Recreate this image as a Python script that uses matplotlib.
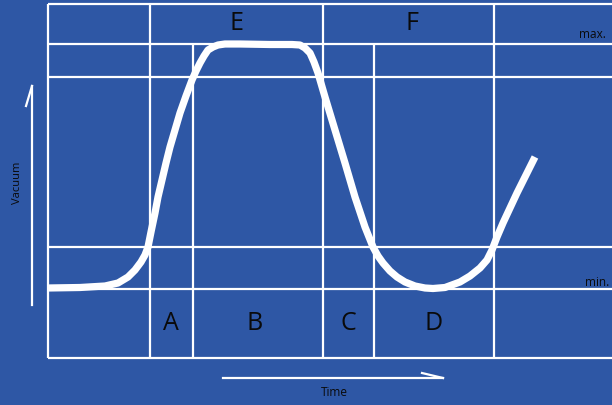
import numpy as np
import matplotlib.pyplot as plt

plt.rcParams['font.family'] = ['Open Sans', 'DejaVu Sans']

bg = '#2E57A5'

# curve (x = time, y = vacuum, screen units, y down)
curve_x = [48, 80, 105, 118, 128, 135, 141, 145, 148, 151, 155, 158, 162, 166,
           170, 175, 180, 186, 192, 196, 200, 204, 208, 213, 218, 225, 240, 270,
           292, 300, 305, 310, 314, 318, 325, 335, 345, 355, 365, 373, 378, 383,
           390, 397, 405, 415, 425, 433, 445, 460, 470, 480, 487, 492, 497, 503,
           510, 517, 522, 527, 531, 535]
curve_y = [288, 287.5, 286, 283, 277, 270, 262, 255, 247, 232, 213, 197, 180, 163,
           147, 130, 113, 96, 80, 71, 63, 56, 50, 47, 45, 44, 44, 44.5,
           44.5, 45, 48, 53, 62, 73, 97, 130, 163, 197, 227, 247, 256, 263,
           271, 277, 282, 286, 288, 288.5, 287.5, 282, 276, 268, 260, 250, 237, 223,
           208, 193, 183, 173, 165, 157]

# grid: horizontal lines (y, x start), vertical lines (x, y start)
h_lines = [(4, 48), (44, 48), (77, 48), (247, 48), (289, 48), (358, 48)]
v_lines = [(48, 4), (150, 4), (193, 44), (323, 4), (374, 44), (494, 4)]
box_bottom = 358
box_right = 612

phase_labels = ['A', 'B', 'C', 'D', 'E', 'F']
phase_x = [171, 255, 348, 434, 236, 412]
phase_y = [323, 323, 323, 323, 23, 23]

fig = plt.figure(figsize=(6.12, 4.05), dpi=100)
fig.patch.set_facecolor(bg)
ax = fig.add_axes([0, 0, 1, 1])
ax.set_facecolor(bg)
ax.set_xlim(0, 612)
ax.set_ylim(405, 0)
ax.axis('off')

for y, x0 in h_lines:
    ax.plot([x0, box_right], [y, y], color='white', lw=1.6, solid_capstyle='butt')
for x, y0 in v_lines:
    ax.plot([x, x], [y0, box_bottom], color='white', lw=1.6, solid_capstyle='butt')

ax.plot(curve_x, curve_y, color='white', lw=5.2, solid_capstyle='butt',
        solid_joinstyle='round')

for lab, x, y in zip(phase_labels, phase_x, phase_y):
    ax.text(x, y, lab, fontsize=18, color='#0a0a0a', ha='center', va='center')

ax.text(579, 35, 'max.', fontsize=8.5, color='#0a0a0a', ha='left', va='center')
ax.text(585, 282, 'min.', fontsize=8.5, color='#0a0a0a', ha='left', va='center')

# axis arrows
ax.plot([32, 32], [305, 86], color='white', lw=1.6)
ax.plot([26, 32], [106, 86], color='white', lw=1.6)
ax.text(17, 183, 'Vacuum', fontsize=8, color='#0a0a0a', rotation=90,
        ha='center', va='center')

ax.plot([223, 443], [378, 378], color='white', lw=1.6)
ax.plot([422, 443], [373, 378], color='white', lw=1.6)
ax.text(334, 392, 'Time', fontsize=8.5, color='#0a0a0a', ha='center', va='center')

fig.savefig('out.png', dpi=100, facecolor=bg)
